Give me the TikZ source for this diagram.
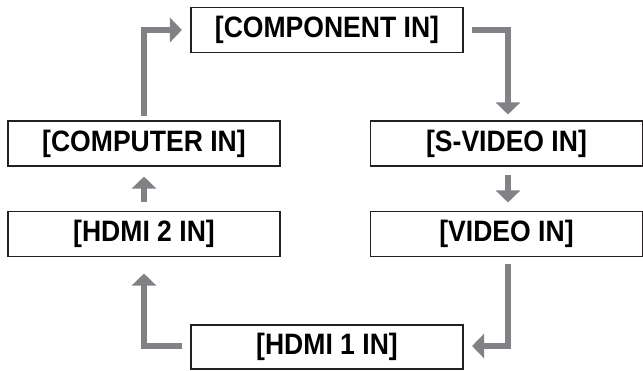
\documentclass[tikz,border=0pt]{standalone}
\usepackage{fontspec}
\usepackage{graphicx}
\setmainfont{Liberation Sans}
\usetikzlibrary{arrows.meta}
\definecolor{arrgray}{RGB}{128,130,133}
\definecolor{boxline}{RGB}{35,31,32}
\newcommand{\lbltext}[1]{\scalebox{0.9}[1]{#1}}
\tikzset{
  inbox/.style={draw=boxline, line width=1.1pt, minimum width=272pt, minimum height=45pt, inner sep=0pt,
    font=\fontsize{29.5}{32}\selectfont\bfseries},
  flow/.style={draw=arrgray, line width=6.5pt, line join=miter,
    -{Triangle[length=12pt,width=24pt]}, arrgray}
}
\begin{document}
\begin{tikzpicture}[x=1pt,y=-1pt]
\useasboundingbox (0,0) rectangle (643,370);
\node[inbox] (comp) at (327,30) {\lbltext{[COMPONENT IN]}};
\node[inbox] (computer) at (144,143.5) {\lbltext{[COMPUTER IN]}};
\node[inbox] (svideo) at (506.5,143.5) {\lbltext{[S-VIDEO IN]}};
\node[inbox] (hdmi2) at (144,234) {\lbltext{[HDMI 2 IN]}};
\node[inbox] (video) at (506.5,234) {\lbltext{[VIDEO IN]}};
\node[inbox, minimum height=44pt] (hdmi1) at (327,347) {\lbltext{[HDMI 1 IN]}};
\draw[flow] ([yshift=4.5pt]computer.north) |- ([xshift=-8.5pt]comp.west);
\draw[flow] ([xshift=8pt]comp.east) -| ([xshift=1.5pt,yshift=6pt]svideo.north);
\draw[flow] ([xshift=1.5pt,yshift=-8pt]svideo.south) -- ([xshift=1.5pt,yshift=8.5pt]video.north);
\draw[flow] ([xshift=1.5pt,yshift=-6.5pt]video.south) |- ([xshift=8.5pt,yshift=1pt]hdmi1.east);
\draw[flow] ([xshift=-8.5pt,yshift=1pt]hdmi1.west) -| ([yshift=-16.5pt]hdmi2.south);
\draw[flow] ([yshift=8.5pt]hdmi2.north) -- ([yshift=-10pt]computer.south);
\end{tikzpicture}
\end{document}
